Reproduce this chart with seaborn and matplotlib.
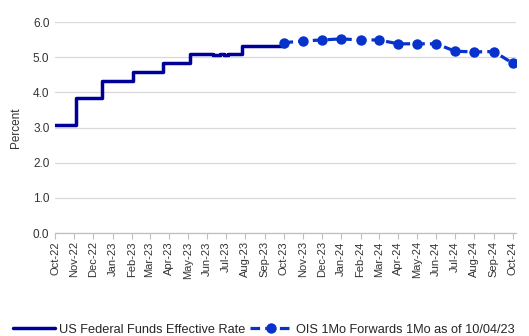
import matplotlib
matplotlib.use("Agg")
import matplotlib.pyplot as plt
import pandas as pd
import seaborn as sns

# Effective federal funds rate: dates on which the level changed, and the level
ffr_dates = ["2022-10-01", "2022-11-03", "2022-12-15", "2023-02-02", "2023-03-23",
             "2023-05-04", "2023-06-10", "2023-06-22", "2023-06-28", "2023-07-05",
             "2023-07-27", "2023-10-03"]
ffr_values = [3.08, 3.83, 4.33, 4.58, 4.83,
              5.08, 5.06, 5.08, 5.06, 5.08,
              5.33, 5.33]

# OIS 1-month forwards, monthly
ois_dates = ["2023-10-01", "2023-11-01", "2023-12-01", "2024-01-01", "2024-02-01",
             "2024-03-01", "2024-04-01", "2024-05-01", "2024-06-01", "2024-07-01",
             "2024-08-01", "2024-09-01", "2024-10-01"]
ois_values = [5.41, 5.46, 5.49, 5.52, 5.49, 5.49, 5.38, 5.38, 5.38, 5.17, 5.15, 5.16, 4.83]

tick_months = pd.date_range("2022-10-01", "2024-10-01", freq="MS")
tick_labels = [d.strftime("%b-%y") for d in tick_months]

ffr = pd.DataFrame({"date": pd.to_datetime(ffr_dates), "rate": ffr_values})
ois = pd.DataFrame({"date": pd.to_datetime(ois_dates), "rate": ois_values})

sns.set_style("white")
plt.rcParams["font.family"] = ["Liberation Sans", "DejaVu Sans"]

fig = plt.figure(figsize=(5.29, 3.36), dpi=100)
ax = fig.add_axes([0.104, 0.3065, 0.871, 0.628])

sns.lineplot(data=ffr, x="date", y="rate", ax=ax, color="#000099", lw=2.5,
             drawstyle="steps-post", label="US Federal Funds Effective Rate")
sns.lineplot(data=ois, x="date", y="rate", ax=ax, color="#0733CC", lw=2.3,
             linestyle=(0, (3.0, 1.6)), marker="o", markersize=7.5,
             markeredgewidth=0, label="OIS 1Mo Forwards 1Mo as of 10/04/23")

ax.set_ylim(0, 6)
ax.set_yticks([0, 1, 2, 3, 4, 5, 6])
ax.set_yticklabels([f"{v:.1f}" for v in range(7)], fontsize=8.5, color="#333333")
ax.set_xlim(pd.Timestamp("2022-10-01"), pd.Timestamp("2024-10-06"))
ax.set_xticks(tick_months)
ax.set_xticklabels(tick_labels, rotation=90, fontsize=8, color="#333333")
ax.tick_params(axis="x", length=4, width=0.8, color="#BFBFBF", pad=2, bottom=True)
ax.tick_params(axis="y", length=0, pad=4)

ax.grid(axis="y", color="#D9D9D9", lw=0.9)
ax.set_axisbelow(True)
for s in ["left", "right", "top"]:
    ax.spines[s].set_visible(False)
ax.spines["bottom"].set_color("#BFBFBF")
ax.spines["bottom"].set_linewidth(0.9)

ax.set_xlabel("")
ax.set_ylabel("Percent", fontsize=8.5, color="#333333", labelpad=8)

ax.legend(loc="center left", bbox_to_anchor=(0.024, 0.018), bbox_transform=fig.transFigure,
          ncol=2, frameon=False, fontsize=9.2, handlelength=3.3, handletextpad=0.3,
          columnspacing=0.4, borderaxespad=0, borderpad=0)

fig.savefig("out.png", dpi=100)
